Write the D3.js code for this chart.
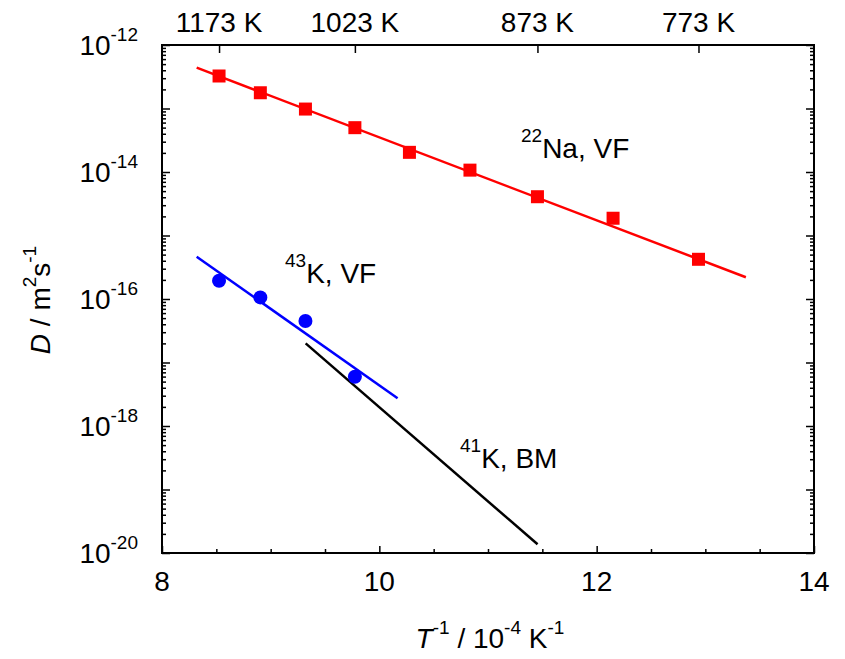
<!DOCTYPE html>
<html><head><meta charset="utf-8">
<script src="https://cdn.jsdelivr.net/npm/d3@7"></script>
<style>
html,body{margin:0;padding:0;background:#fff;}
text{font-family:"Liberation Sans",Arial,sans-serif;fill:#000;}
</style></head>
<body>
<svg id="chart" width="845" height="659"></svg>
<script>
// ---- data ----
const naX = [8.525, 8.905, 9.320, 9.775, 10.277, 10.834, 11.455, 12.151, 12.937];
const naD = [3.25e-13, 1.77e-13, 9.8e-14, 4.99e-14, 2.04e-14, 1.07e-14, 4.08e-15, 1.87e-15, 4.22e-16];
const kX  = [8.525, 8.905, 9.320, 9.775];
const kD  = [1.94e-16, 1.06e-16, 4.5e-17, 5.97e-18];
const naFitX = [8.319, 13.373];
const naFitD = [4.40e-13, 2.20e-16];
const kFitX = [8.319, 10.168];
const kFitD = [4.63e-16, 2.73e-18];
const bmFitX = [9.322, 11.456];
const bmFitD = [2.00e-17, 1.37e-20];
const xTickLabels = [8, 10, 12, 14];
const yTickExps = [-12, -14, -16, -18, -20];
const topTickTemps = [1173, 1023, 873, 773];
const topTickX = [8.525, 9.775, 11.455, 12.937];

// ---- layout ----
const svg = d3.select("#chart");
const m = {left:162, top:45, right:31, bottom:106};
const W = 845 - m.left - m.right, H = 659 - m.top - m.bottom;
const x = d3.scaleLinear().domain([8,14]).range([m.left, m.left+W]);
const y = d3.scaleLog().domain([1e-20,1e-12]).range([m.top+H, m.top]);
const FS = 28, SUP = 19;

// ---- ticks ----
const yMajor = d3.range(-20,-11).map(e=>Math.pow(10,e));
const yMinor = [];
for (let e=-20;e<-12;e++) for (let k=2;k<=9;k++) yMinor.push(k*Math.pow(10,e));
const xMinor = d3.range(8,14.01,0.5).filter(v=>![8,10,12,14].includes(v));

function styleAxis(g){ g.select(".domain").remove(); g.selectAll("line").attr("stroke","#000").attr("stroke-width",1.5); g.selectAll("text").remove(); }

svg.append("g").attr("transform",`translate(${m.left},0)`).call(d3.axisLeft(y).tickValues(yMajor).tickSize(-8).tickFormat("")).call(styleAxis);
svg.append("g").attr("transform",`translate(${m.left},0)`).call(d3.axisLeft(y).tickValues(yMinor).tickSize(-4).tickFormat("")).call(styleAxis);
svg.append("g").attr("transform",`translate(${m.left+W},0)`).call(d3.axisRight(y).tickValues(yMajor).tickSize(-8).tickFormat("")).call(styleAxis);
svg.append("g").attr("transform",`translate(${m.left+W},0)`).call(d3.axisRight(y).tickValues(yMinor).tickSize(-4).tickFormat("")).call(styleAxis);
svg.append("g").attr("transform",`translate(0,${m.top+H})`).call(d3.axisBottom(x).tickValues(xTickLabels).tickSize(-7).tickFormat("")).call(styleAxis);
svg.append("g").attr("transform",`translate(0,${m.top+H})`).call(d3.axisBottom(x).tickValues(xMinor).tickSize(-4).tickFormat("")).call(styleAxis);
svg.append("g").attr("transform",`translate(0,${m.top})`).call(d3.axisTop(x).tickValues(topTickX).tickSize(-8).tickFormat("")).call(styleAxis);

// frame
svg.append("rect").attr("x",m.left).attr("y",m.top).attr("width",W).attr("height",H)
  .attr("fill","none").attr("stroke","#000").attr("stroke-width",2);

// ---- tick labels ----
svg.append("g").selectAll("text").data(xTickLabels).join("text")
  .attr("x",d=>x(d)).attr("y",m.top+H+38).attr("text-anchor","middle")
  .attr("font-size",FS).text(d=>d);

svg.append("g").selectAll("text").data(topTickX).join("text")
  .attr("x",d=>x(d)).attr("y",m.top-13).attr("text-anchor","middle")
  .attr("font-size",FS).text((d,i)=>topTickTemps[i]+" K");

const yl = svg.append("g").selectAll("text").data(yTickExps).join("text")
  .attr("x",138).attr("y",d=>y(Math.pow(10,d))+10).attr("text-anchor","end")
  .attr("font-size",FS);
yl.append("tspan").text("10");
yl.append("tspan").attr("font-size",SUP).attr("dy",-14).text(d=>d);

// ---- axis titles ----
const xt = svg.append("text").attr("x",490).attr("y",648).attr("text-anchor","middle").attr("font-size",FS);
xt.append("tspan").attr("font-style","italic").text("T");
xt.append("tspan").attr("font-size",SUP).attr("dy",-14).text("-1");
xt.append("tspan").attr("dy",14).text(" / 10");
xt.append("tspan").attr("font-size",SUP).attr("dy",-14).text("-4");
xt.append("tspan").attr("dy",14).text(" K");
xt.append("tspan").attr("font-size",SUP).attr("dy",-14).text("-1");

const yt = svg.append("text").attr("transform","translate(50,300) rotate(-90)").attr("text-anchor","middle").attr("font-size",FS);
yt.append("tspan").attr("font-style","italic").text("D");
yt.append("tspan").text(" / m");
yt.append("tspan").attr("font-size",SUP).attr("dy",-14).text("2");
yt.append("tspan").attr("dy",14).text("s");
yt.append("tspan").attr("font-size",SUP).attr("dy",-14).text("-1");

// ---- fit lines ----
const line = d3.line().x(d=>x(d[0])).y(d=>y(d[1]));
svg.append("path").datum(d3.zip(naFitX,naFitD)).attr("d",line).attr("stroke","#ff0000").attr("stroke-width",2.5).attr("fill","none");
svg.append("path").datum(d3.zip(kFitX,kFitD)).attr("d",line).attr("stroke","#0000ff").attr("stroke-width",2.5).attr("fill","none");
svg.append("path").datum(d3.zip(bmFitX,bmFitD)).attr("d",line).attr("stroke","#000").attr("stroke-width",2.5).attr("fill","none");

// ---- markers ----
const S = 13;
svg.append("g").selectAll("rect").data(d3.zip(naX,naD)).join("rect")
  .attr("x",d=>x(d[0])-S/2).attr("y",d=>y(d[1])-S/2).attr("width",S).attr("height",S).attr("fill","#ff0000");
svg.append("g").selectAll("circle").data(d3.zip(kX,kD)).join("circle")
  .attr("cx",d=>x(d[0])).attr("cy",d=>y(d[1])).attr("r",7).attr("fill","#0000ff");

// ---- annotations ----
function label(xp, yp, sup, main){
  const t = svg.append("text").attr("x",xp).attr("y",yp).attr("font-size",FS);
  t.append("tspan").attr("font-size",SUP).attr("dy",-16).text(sup);
  t.append("tspan").attr("dy",16).text(main);
}
label(521,158,"22","Na, VF");
label(285,283,"43","K, VF");
label(460,468,"41","K, BM");
</script>
</body></html>
